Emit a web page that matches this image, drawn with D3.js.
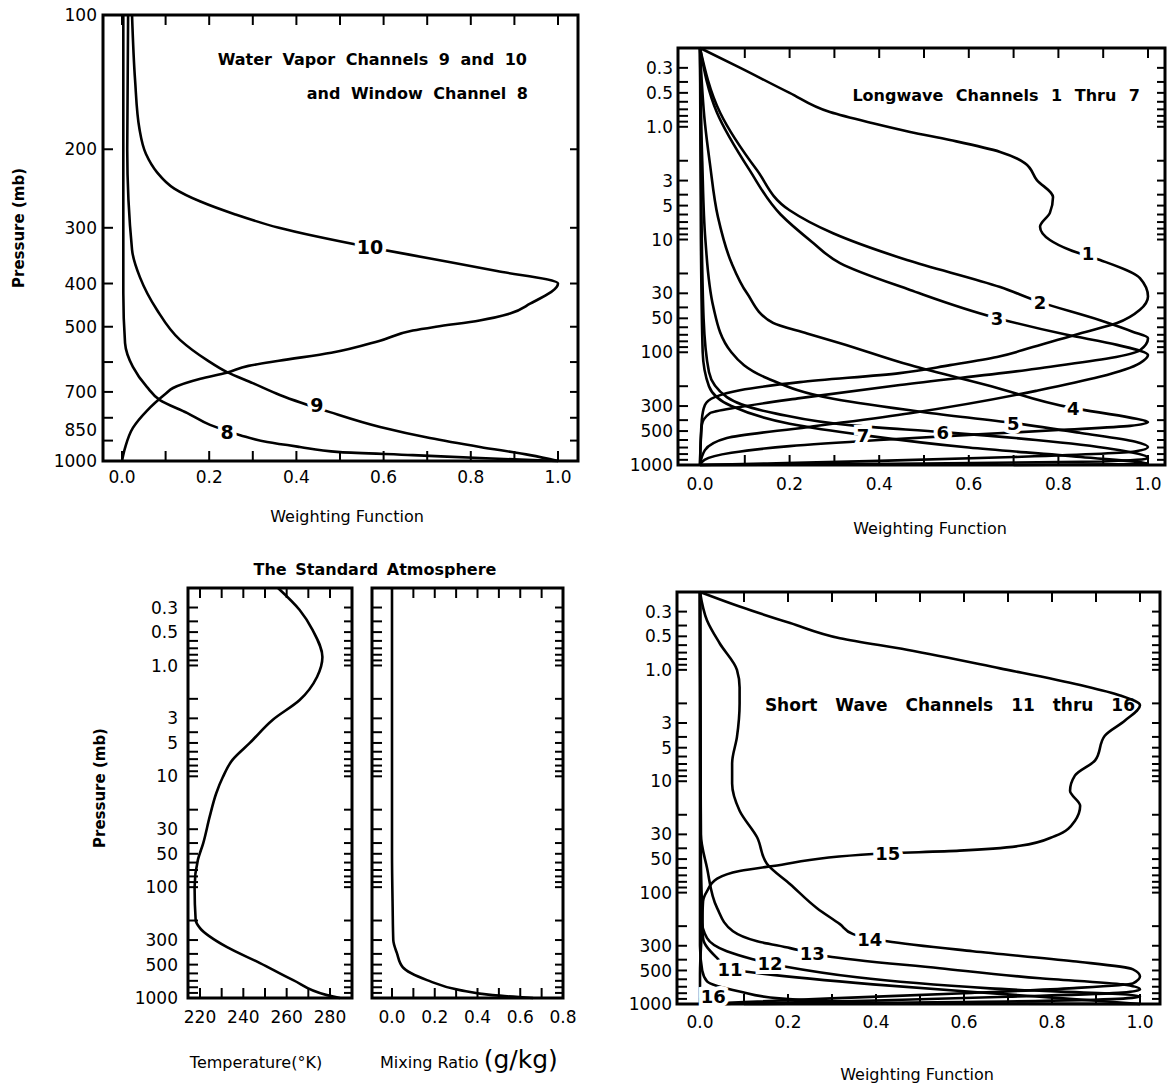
<!DOCTYPE html>
<html>
<head>
<meta charset="utf-8">
<script src="https://cdn.jsdelivr.net/npm/d3@7"></script>
<style>
  body { margin: 0; background: #fff; }
  text { font-family: "DejaVu Sans", sans-serif; fill: #000; }
</style>
</head>
<body>
<script>
// ---------- data: [weighting, pressure mb] ----------
// water vapor / window channels
const ch8 = [[0.003,100],[0.003,420],[0.007,544],[0.025,615],[0.057,682],[0.087,730],[0.149,780],[0.202,830],[0.271,875],[0.333,907],[0.408,930],[0.5,955],[0.667,970],[0.821,985],[1.0,1000]];
const ch9 = [[0.014,100],[0.012,200],[0.023,336],[0.041,387],[0.08,458],[0.133,535],[0.195,594],[0.241,632],[0.30,669],[0.362,711],[0.477,777],[0.592,839],[0.706,888],[0.821,930],[0.936,970],[1.0,1000]];
const ch10 = [[0.023,100],[0.03,140],[0.04,180],[0.055,205],[0.08,225],[0.12,245],[0.18,262],[0.26,280],[0.36,300],[0.57,332],[0.71,352],[0.86,375],[1.0,400],[0.936,444],[0.89,467],[0.82,484],[0.72,500],[0.667,510],[0.59,538],[0.48,572],[0.36,596],[0.29,612],[0.24,634],[0.18,654],[0.117,686],[0.1,707],[0.057,772],[0.025,843],[0.007,935],[0,1000]];
const wvTags = [["10",0.569,331],["9",0.447,749],["8",0.241,861]];

// longwave channels 1-7
const lw1 = [[0,0.2],[0.09,0.3],[0.2,0.5],[0.29,0.74],[0.386,0.93],[0.469,1.11],[0.558,1.31],[0.67,1.67],[0.725,2.1],[0.752,2.97],[0.788,4.2],[0.781,5.8],[0.759,7.7],[0.781,10.1],[0.826,12.4],[0.893,15.2],[0.982,22],[1.0,32],[0.982,42],[0.931,55],[0.848,68],[0.743,90],[0.663,110],[0.558,130],[0.446,153],[0.223,184],[0.089,217],[0.033,250],[0.011,294],[0.004,400],[0,1000]];
const lw2 = [[0,0.2],[0.045,0.75],[0.127,2.42],[0.2,5.5],[0.297,8.8],[0.462,15.2],[0.67,26.4],[0.759,35.9],[0.893,52],[0.967,66],[1.0,75],[0.982,96],[0.75,140],[0.446,195],[0.223,255],[0.089,306],[0.022,347],[0.004,443],[0,1000]];
const lw3 = [[0,0.2],[0.038,0.75],[0.11,2.4],[0.18,6],[0.25,10.5],[0.3125,16.2],[0.469,28],[0.663,49.8],[0.819,70],[0.931,86],[1.0,106],[0.982,125],[0.75,220],[0.469,347],[0.239,462],[0.06,577],[0.011,738],[0,1000]];
const lw4 = [[0,0.2],[0.011,0.93],[0.022,2.1],[0.04,6.3],[0.07,16],[0.105,30],[0.163,55],[0.239,68],[0.313,83],[0.469,130],[0.65,200],[0.833,313],[0.96,380],[1.0,416],[0.96,450],[0.8,490],[0.6,540],[0.4,600],[0.2,680],[0.07,780],[0.01,900],[0,1000]];
const lw5 = [[0,0.2],[0.005,2],[0.012,10],[0.03,40],[0.07,100],[0.15,170],[0.3,260],[0.5,340],[0.7,425],[0.85,520],[0.97,620],[1.0,693],[0.97,760],[0.7,850],[0.4,920],[0.15,970],[0,1000]];
const lw6 = [[0,0.2],[0.003,5],[0.008,50],[0.02,150],[0.06,250],[0.17,350],[0.35,450],[0.542,511],[0.75,600],[0.92,720],[1.0,869],[0.9,930],[0.5,970],[0.2,990],[0,1000]];
const lw7 = [[0,0.2],[0.002,10],[0.006,100],[0.02,200],[0.07,300],[0.2,430],[0.364,543],[0.6,700],[0.85,850],[1.0,980],[0.7,1000]];
const lwTags = [["1",0.866,13.2],["2",0.759,35.9],["3",0.663,49.8],["4",0.833,313],["5",0.699,425],["6",0.542,511],["7",0.364,543]];

// standard atmosphere: [temperature K, p] and [mixing ratio g/kg, p]
const tempProfile = [[256,0.2],[266,0.316],[272,0.48],[276.5,0.84],[274,1.27],[266,2.05],[253.5,3.1],[243,5],[235,7.1],[230.5,10.2],[227.5,14.2],[224.5,23],[221.5,40],[219,57],[217.5,100],[218,198],[220,234],[232.5,348],[247.7,484],[263,690],[278.6,942],[284.6,1000]];
const mixProfile = [[0,0.2],[0,50],[0.003,150],[0.006,300],[0.023,394],[0.05,527],[0.164,690],[0.318,849],[0.47,942],[0.66,1000]];

// short wave channels 11-16
const sw11 = [[0,0.2],[0.002,50],[0.005,150],[0.007,256],[0.039,388],[0.068,488],[0.098,508],[0.393,667],[0.698,820],[0.925,949],[1.0,1000]];
const sw12 = [[0,0.2],[0.001,50],[0.003,169],[0.016,256],[0.061,336],[0.12,396],[0.189,458],[0.659,724],[1.0,855],[0.95,900],[0.6,960],[0.2,995],[0.1,1000]];
const sw13 = [[0,0.2],[0.002,30],[0.016,60],[0.039,138],[0.075,222],[0.13,273],[0.205,315],[0.255,350],[0.289,372],[0.545,478],[0.773,588],[0.961,667],[1.0,740],[0.96,790],[0.7,860],[0.4,930],[0.15,980],[0.05,1000]];
const sw14 = [[0,0.2],[0.016,0.36],[0.045,0.58],[0.084,1.0],[0.09,1.44],[0.09,2.0],[0.084,4.0],[0.073,6.9],[0.073,10.5],[0.09,18.4],[0.13,32],[0.152,55],[0.205,84],[0.266,138],[0.318,192],[0.348,236],[0.425,273],[0.62,336],[0.848,413],[0.984,488],[1.0,564],[0.984,653],[0.85,720],[0.6,800],[0.3,890],[0.1,960],[0,1000]];
const sw15 = [[0,0.2],[0.09,0.27],[0.205,0.38],[0.318,0.52],[0.47,0.66],[0.682,0.97],[0.864,1.37],[0.955,1.7],[1.0,2.08],[0.966,2.85],[0.92,3.9],[0.898,6.5],[0.852,8.9],[0.841,12.2],[0.864,16.6],[0.852,22.7],[0.807,31],[0.727,38],[0.59,42],[0.393,45],[0.166,57.6],[0.09,64],[0.039,75],[0.016,97],[0.007,119],[0.005,192],[0,541],[0,1000]];
const sw16 = [[0,0.2],[0,300],[0.005,500],[0.016,625],[0.09,771],[0.18,891],[0.45,985],[1.0,1000]];
const swTags = [["15",0.427,44.9],["14",0.386,262],["13",0.255,350],["12",0.159,431],["11",0.068,488],["16",0.03,850]];

// ticks and tick labels
const wfTicks = [0,0.1,0.2,0.3,0.4,0.5,0.6,0.7,0.8,0.9,1.0];
const wfLabels = [0,0.2,0.4,0.6,0.8,1.0];
const wfText = ["0.0","0.2","0.4","0.6","0.8","1.0"];
const pLinTicks = [200,300,400,500,600,700,800,900];
const pLinLabels = [100,200,300,400,500,700,850,1000];
const pLogLabels = [0.3,0.5,1,3,5,10,30,50,100,300,500,1000];
const pLogText = ["0.3","0.5","1.0","3","5","10","30","50","100","300","500","1000"];
const tTicks = [220,230,240,250,260,270,280];
const tLabels = [220,240,260,280];
const mTicks = [0,0.1,0.2,0.3,0.4,0.5,0.6,0.7,0.8];
const mLabels = [0,0.2,0.4,0.6,0.8];
const mText = ["0.0","0.2","0.4","0.6","0.8"];

// ---------- drawing ----------
const svg = d3.select("body").append("svg").attr("width", 1167).attr("height", 1086);

function box(b, x, y, o) {
  const g = svg.append("g").attr("stroke", "#000").attr("stroke-width", 2);
  const tl = 10;
  g.selectAll(null).data(o.xTicks).join("line")
    .attr("x1", d => x(d)).attr("x2", d => x(d)).attr("y1", b.b).attr("y2", b.b - tl);
  g.selectAll(null).data(o.xTicks).join("line")
    .attr("x1", d => x(d)).attr("x2", d => x(d)).attr("y1", b.t).attr("y2", b.t + tl);
  g.selectAll(null).data(o.yTicks).join("line")
    .attr("x1", b.l).attr("x2", b.l + tl).attr("y1", d => y(d)).attr("y2", d => y(d));
  g.selectAll(null).data(o.yTicks).join("line")
    .attr("x1", b.r).attr("x2", b.r - 8).attr("y1", d => y(d)).attr("y2", d => y(d));
  svg.append("rect").attr("x", b.l).attr("y", b.t)
    .attr("width", b.r - b.l).attr("height", b.b - b.t)
    .attr("fill", "none").attr("stroke", "#000").attr("stroke-width", 3);

  const t = svg.append("g").attr("font-size", 17);
  t.selectAll(null).data(o.xLabels).join("text")
    .attr("x", d => x(d)).attr("y", b.b + o.xOff)
    .attr("text-anchor", "middle").text((d, i) => o.xText[i]);
  if (o.yLabels) {
    t.selectAll(null).data(o.yLabels).join("text")
      .attr("x", b.l - o.yOff).attr("y", d => y(d)).attr("dy", "0.36em")
      .attr("text-anchor", "end").text((d, i) => o.yText[i]);
  }
}

function curves(x, y, list) {
  const ln = d3.line().x(d => x(d[0])).y(d => y(d[1])).curve(d3.curveMonotoneY);
  svg.append("g").attr("fill", "none").attr("stroke", "#000")
    .attr("stroke-width", 2.6).attr("stroke-linejoin", "round")
    .selectAll("path").data(list).join("path").attr("d", ln);
}

function tags(x, y, list, size) {
  svg.append("g").selectAll("text").data(list).join("text")
    .attr("x", d => x(d[1])).attr("y", d => y(d[2])).attr("dy", "0.36em")
    .attr("text-anchor", "middle").attr("font-size", size).attr("font-weight", "bold")
    .attr("stroke", "#fff").attr("stroke-width", 8).attr("paint-order", "stroke")
    .text(d => d[0]);
}

function label(x, y, txt, o = {}) {
  const t = svg.append("text").attr("x", x).attr("y", y)
    .attr("font-size", o.size || 16).attr("font-weight", o.bold ? "bold" : "normal")
    .attr("text-anchor", o.anchor || "middle").text(txt);
  if (o.ws) t.attr("word-spacing", o.ws);
  if (o.rot) t.attr("transform", `rotate(-90,${x},${y})`);
  return t;
}

// panel A: water vapor
const bA = {l: 103, r: 578, t: 15, b: 461};
const xA = d3.scaleLinear([0, 1], [122, 558]);
const yA = d3.scaleLog([100, 1000], [bA.t, bA.b]);
box(bA, xA, yA, {xTicks: wfTicks, yTicks: pLinTicks, xLabels: wfLabels, xText: wfText,
  xOff: 22, yLabels: pLinLabels, yText: pLinLabels.map(String), yOff: 6});
curves(xA, yA, [ch8, ch9, ch10]);
tags(xA, yA, wvTags, 19);
label(527, 65, "Water Vapor Channels 9 and 10", {bold: true, anchor: "end", ws: 5});
label(528, 99, "and Window Channel 8", {bold: true, anchor: "end", ws: 5});
label(347, 522, "Weighting Function");
label(24, 228, "Pressure (mb)", {bold: true, rot: true, size: 15});

// panel B: longwave
const bB = {l: 678, r: 1165, t: 48, b: 465};
const xB = d3.scaleLinear([0, 1], [700, 1148]);
const yB = d3.scaleLog([0.2, 1000], [bB.t, bB.b]);
box(bB, xB, yB, {xTicks: wfTicks, yTicks: yB.ticks(), xLabels: wfLabels, xText: wfText,
  xOff: 25, yLabels: pLogLabels, yText: pLogText, yOff: 5});
curves(xB, yB, [lw1, lw2, lw3, lw4, lw5, lw6, lw7]);
tags(xB, yB, lwTags, 18);
label(1140, 101, "Longwave Channels 1 Thru 7", {bold: true, anchor: "end", ws: 7});
label(930, 534, "Weighting Function");

// panel C: standard atmosphere
const bT = {l: 188, r: 352, t: 588, b: 998};
const bM = {l: 372, r: 563, t: 588, b: 998};
const xT = d3.scaleLinear([220, 280], [200, 330]);
const xM = d3.scaleLinear([0, 0.8], [392, 563]);
const yC = d3.scaleLog([0.2, 1000], [bT.t, bT.b]);
box(bT, xT, yC, {xTicks: tTicks, yTicks: yC.ticks(), xLabels: tLabels, xText: tLabels.map(String),
  xOff: 25, yLabels: pLogLabels, yText: pLogText, yOff: 10});
box(bM, xM, yC, {xTicks: mTicks, yTicks: yC.ticks(), xLabels: mLabels, xText: mText, xOff: 25});
curves(xT, yC, [tempProfile]);
curves(xM, yC, [mixProfile]);
label(375, 575, "The Standard Atmosphere", {bold: true, ws: 3});
label(105, 788, "Pressure (mb)", {bold: true, rot: true, size: 15});
label(256, 1068, "Temperature(°K)");
const mr = svg.append("text").attr("x", 380).attr("y", 1068).attr("text-anchor", "start");
mr.append("tspan").attr("font-size", 16).text("Mixing Ratio ");
mr.append("tspan").attr("font-size", 25).text("(g/kg)");

// panel D: short wave
const bD = {l: 677, r: 1160, t: 592, b: 1004};
const xD = d3.scaleLinear([0, 1], [700, 1140]);
const yD = d3.scaleLog([0.2, 1000], [bD.t, bD.b]);
box(bD, xD, yD, {xTicks: wfTicks, yTicks: yD.ticks(), xLabels: wfLabels, xText: wfText,
  xOff: 24, yLabels: pLogLabels, yText: pLogText, yOff: 5});
curves(xD, yD, [sw11, sw12, sw13, sw14, sw15, sw16]);
tags(xD, yD, swTags, 18);
label(1135, 711, "Short Wave Channels 11 thru 16", {bold: true, anchor: "end", ws: 12, size: 17});
label(917, 1080, "Weighting Function");
</script>
</body>
</html>
